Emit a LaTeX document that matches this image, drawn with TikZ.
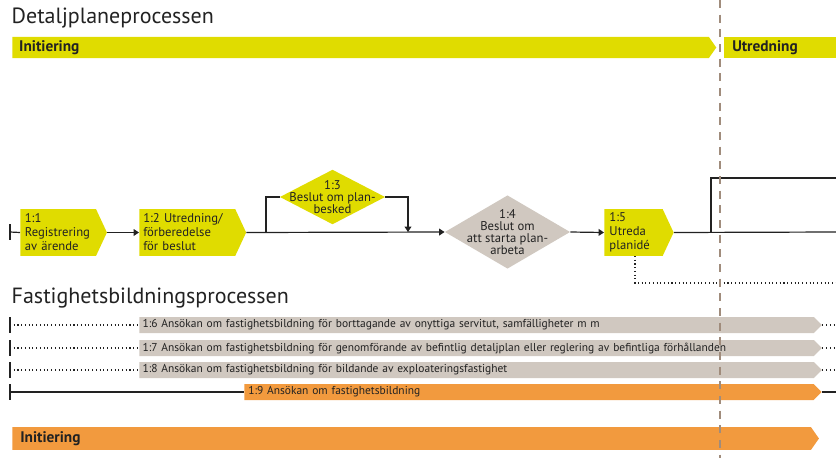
\documentclass[tikz,border=0pt]{standalone}
\usepackage{fontspec}
\setmainfont{PT Sans}
\usetikzlibrary{shapes.symbols,shapes.geometric,arrows.meta}
\definecolor{ylw}{HTML}{E0DC00}
\definecolor{gry}{HTML}{D0C8C0}
\definecolor{org}{HTML}{F29A3E}
\definecolor{dsh}{HTML}{A08C7C}
\definecolor{ink}{HTML}{222222}
\begin{document}
\begin{tikzpicture}[x=0.75pt,y=-0.75pt,
  every node/.style={font=\fontsize{9.5}{10.5}\selectfont, text=ink},
  procbox/.style={signal, signal to=east, signal pointer angle=130, fill=ylw, minimum height=35pt, inner ysep=0pt, inner xsep=0pt, anchor=west, text width=56pt, align=left},
  decision/.style={diamond, inner sep=0pt},
  dtext/.style={align=center, inner sep=0pt},
  phasebar/.style={signal, signal to=east, signal pointer angle=110, minimum height=16pt, inner sep=0pt, anchor=west, font=\fontsize{11.5}{12}\selectfont\bfseries, align=left},
  rowbar/.style={signal, signal to=east, signal pointer angle=90, fill=gry, minimum height=12pt, inner sep=0pt, anchor=west, font=\fontsize{8.6}{9}\selectfont, align=left},
  flow/.style={draw=ink, line width=0.9pt},
  arr/.style={flow, -{Triangle[length=4pt,width=5pt]}},
  dotl/.style={draw=ink, line width=0.8pt, dotted}]
\useasboundingbox (0,0) rectangle (836,458);
% titles
\node[anchor=west, font=\fontsize{16.5}{18}\selectfont] (t1) at (7,18) {Detaljplaneprocessen};
\node[anchor=west, font=\fontsize{16.5}{18}\selectfont] (t2) at (7,298) {Fastighetsbildningsprocessen};
% phase bars
\node[phasebar, fill=ylw, minimum width=528pt, text width=520pt] (ph1) at (12,47.5) {\hspace*{4pt}Initiering};
\node[rectangle, fill=ylw, minimum height=16pt, minimum width=84pt, inner sep=0pt, anchor=west, font=\fontsize{11.5}{12}\selectfont\bfseries, text width=80pt, align=left] (ph2) at (724,47.5) {\hspace*{4pt}Utredning};
\node[phasebar, fill=org, minimum width=605pt, minimum height=17pt, text width=595pt] (ph3) at (12,438.5) {\hspace*{4pt}Initiering};
% boxes
\node[procbox, minimum width=65pt] (b1) at (20,232.5) {\hspace*{3pt}\parbox[t]{50pt}{1:1\\Registrering\\av ärende}};
\node[procbox, minimum width=80pt, text width=72pt] (b2) at (139,232.5) {\hspace*{3pt}\parbox[t]{66pt}{1:2 Utredning/\\förberedelse\\för beslut}};
\node[decision, fill=ylw, minimum width=79pt, minimum height=41pt] (d3) at (332.5,197) {};
\node[dtext] (d3t) at (d3) {1:3\\[-1.5pt]Beslut om plan-\\[-1.5pt]besked};
\node[decision, fill=gry, minimum width=94pt, minimum height=55pt] (d4) at (507.5,232) {};
\node[dtext] (d4t) at (d4) {1:4\\[-1.5pt]Beslut om\\[-1.5pt]att starta plan-\\[-1.5pt]arbeta};
\node[procbox, minimum width=52pt, text width=42pt] (b5) at (604,232.5) {\hspace*{3pt}\parbox[t]{38pt}{1:5\\Utreda\\planidé}};
% connectors
\coordinate (s0) at (10,232);
\draw[flow] (10,224) -- (10,240);
\draw[flow] (s0) -- (b1.west);
\draw[arr] (b1.east) -- (b2.west);
\coordinate (j1) at (266,232);
\coordinate (j2) at (408,232);
\draw[arr] (b2.east) -- (d4.west);
\draw[flow] (j1) |- (d3.west);
\draw[arr] (d3.east) -| (j2);
\draw[arr] (d4.east) -- (b5.west);
\coordinate (e1) at (836,232);
\coordinate (e2) at (836,178);
\coordinate (e3) at (836,283);
\coordinate (k1) at (711,232);
\draw[flow] (b5.east) -- (e1);
\draw[flow] (k1) |- (e2);
\draw[dotl] (635,256) |- (e3);
% rows
\foreach \y in {325,348,370}{
  \draw[flow] (10,\y-8) -- (10,\y+8);
}
\node[rowbar, minimum width=512pt, text width=505pt] (r6) at (139,325) {\hspace*{2pt}1:6 Ansökan om fastighetsbildning för borttagande av onyttiga servitut, samfälligheter m m};
\node[rowbar, minimum width=512pt, text width=505pt] (r7) at (139,348) {\hspace*{2pt}1:7 Ansökan om fastighetsbildning för genomförande av befintlig detaljplan eller reglering av befintliga förhållanden};
\node[rowbar, minimum width=512pt, text width=505pt] (r8) at (139,370) {\hspace*{2pt}1:8 Ansökan om fastighetsbildning för bildande av exploateringsfastighet};
\node[rowbar, fill=org, minimum width=433pt, text width=425pt] (r9) at (244,392) {\hspace*{2pt}1:9 Ansökan om fastighetsbildning};
\draw[flow] (10,384) -- (10,400);
\foreach \r/\y in {r6/325,r7/348,r8/370}{
  \coordinate (a\r) at (10,\y);
  \coordinate (z\r) at (836,\y);
  \draw[dotl] (a\r) -- (\r.west);
  \draw[dotl] (\r.east) -- (z\r);
}
\coordinate (ar9) at (10,392);
\coordinate (zr9) at (836,392);
\draw[flow] (ar9) -- (r9.west);
\draw[flow] (r9.east) -- (zr9);
% divider
\draw[dsh, line width=0.9pt, dash pattern=on 6pt off 5pt] (720,0) -- (720,458);
\end{tikzpicture}
\end{document}
